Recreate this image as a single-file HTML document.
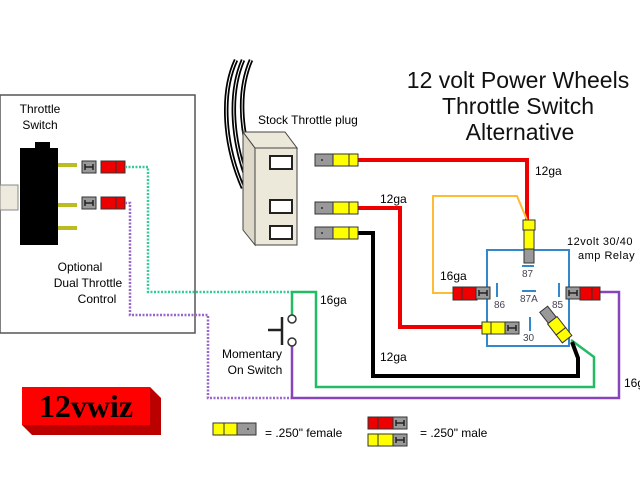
<!DOCTYPE html>
<html><head><meta charset="utf-8"><style>
html,body{margin:0;padding:0;background:#fff;}
svg{display:block;font-family:"Liberation Sans",sans-serif;}
</style></head><body>
<svg width="640" height="480" viewBox="0 0 640 480" xmlns="http://www.w3.org/2000/svg">
<defs>
<g id="gray"><rect x="0" y="0" width="14" height="12" fill="#999" stroke="#333" stroke-width="1"/><path d="M3 3v6M11 3v6M3 6h8" stroke="#222" stroke-width="1.5" fill="none"/></g>
<g id="fem"><rect x="0" y="0" width="18" height="12" fill="#999" stroke="#333"/><circle cx="7" cy="6" r="1" fill="#333"/><rect x="18" y="0" width="16" height="12" fill="#ff0" stroke="#333"/><rect x="34" y="0" width="9" height="12" fill="#ff0" stroke="#333"/></g>
</defs>
<rect x="0" y="95" width="195" height="238" fill="#fff" stroke="#555" stroke-width="1.5"/>
<text x="40" y="113" font-size="12" text-anchor="middle">Throttle</text>
<text x="40" y="129" font-size="12" text-anchor="middle">Switch</text>
<rect x="0" y="185" width="18" height="25" fill="#eeeadd" stroke="#888"/>
<path d="M20 148h15v-6h15v6h8v97h-38z" fill="#000"/>
<rect x="58" y="163" width="19" height="4" fill="#bb2"/>
<rect x="58" y="203" width="19" height="4" fill="#bb2"/>
<rect x="58" y="226" width="19" height="4" fill="#bb2"/>
<use href="#gray" x="82" y="161"/><rect x="101" y="161" width="15" height="12" fill="#e00" stroke="#333"/><rect x="116" y="161" width="9" height="12" fill="#e00" stroke="#333"/>
<use href="#gray" x="82" y="197"/><rect x="101" y="197" width="15" height="12" fill="#e00" stroke="#333"/><rect x="116" y="197" width="9" height="12" fill="#e00" stroke="#333"/>
<text x="80" y="271" font-size="12" text-anchor="middle">Optional</text>
<text x="88" y="287" font-size="12" text-anchor="middle">Dual Throttle</text>
<text x="97" y="303" font-size="12" text-anchor="middle">Control</text>
<path d="M125 167H148V292H292" fill="none" stroke="#3c9" stroke-width="2.5" stroke-dasharray="2,1.5"/>
<path d="M125 203H130V315H208V398H292" fill="none" stroke="#96c" stroke-width="2.5" stroke-dasharray="2,1.5"/>
<path d="M292 319V292H316V387H594V357L571 340" fill="none" stroke="#2b6" stroke-width="2.5"/>
<path d="M292 342V398H619V292H600" fill="none" stroke="#84b" stroke-width="2.5"/>
<circle cx="292" cy="319" r="4" fill="#fff" stroke="#333" stroke-width="1.5"/>
<circle cx="292" cy="342" r="4" fill="#fff" stroke="#333" stroke-width="1.5"/>
<path d="M282 317V345M268 330H282" stroke="#222" stroke-width="2.5"/>
<text x="252" y="358" font-size="12" text-anchor="middle">Momentary</text>
<text x="255" y="374" font-size="12" text-anchor="middle">On Switch</text>
<text x="320" y="304" font-size="12">16ga</text>
<g fill="none">
<path d="M236 60C222 90 222 140 243 188M243 60C230 90 230 135 248 182M251 60C238 90 239 128 255 176" stroke="#000" stroke-width="4.5"/>
<path d="M236 60C222 90 222 140 243 188M243 60C230 90 230 135 248 182M251 60C238 90 239 128 255 176" stroke="#fff" stroke-width="1"/>
</g>
<path d="M243 132L255 148V245L243 230Z" fill="#ddd8c8" stroke="#444"/>
<path d="M243 132H285L297 148H255Z" fill="#ece8da" stroke="#444"/>
<rect x="255" y="148" width="42" height="97" fill="#ece8da" stroke="#444"/>
<rect x="270" y="156" width="22" height="13" fill="#fff" stroke="#222" stroke-width="2"/>
<rect x="270" y="200" width="22" height="13" fill="#fff" stroke="#222" stroke-width="2"/>
<rect x="270" y="226" width="22" height="13" fill="#fff" stroke="#222" stroke-width="2"/>
<text x="258" y="124" font-size="12">Stock Throttle plug</text>
<path d="M357 160H527V220" fill="none" stroke="#e00" stroke-width="4"/>
<path d="M357 208H400V327H482" fill="none" stroke="#e00" stroke-width="4"/>
<path d="M357 233H373V376H578V358L572 342" fill="none" stroke="#000" stroke-width="4"/>
<path d="M453 293H433V196H517L527 220" fill="none" stroke="#fb3" stroke-width="2"/>
<use href="#fem" x="315" y="154"/>
<use href="#fem" x="315" y="202"/>
<use href="#fem" x="315" y="227"/>
<text x="535" y="175" font-size="12">12ga</text>
<text x="380" y="203" font-size="12">12ga</text>
<text x="380" y="361" font-size="12">12ga</text>
<text x="440" y="280" font-size="12">16ga</text>
<rect x="487" y="250" width="82" height="96" fill="none" stroke="#38c" stroke-width="2"/>
<rect x="523" y="220" width="12" height="10" fill="#ff0" stroke="#333"/><rect x="524" y="230" width="10" height="19" fill="#ff0" stroke="#333"/>
<rect x="524" y="249" width="10" height="14" fill="#999" stroke="#333"/>
<rect x="522" y="265" width="12" height="2" fill="#38c"/>
<text x="522" y="277" font-size="10" fill="#445">87</text>
<rect x="453" y="287" width="9" height="13" fill="#e00" stroke="#333"/><rect x="462" y="287" width="15" height="13" fill="#e00" stroke="#333"/>
<use href="#gray" x="476" y="287"/>
<rect x="496" y="283" width="2" height="14" fill="#38c"/>
<text x="494" y="308" font-size="10" fill="#445">86</text>
<rect x="522" y="290" width="14" height="2" fill="#38c"/>
<text x="520" y="302" font-size="10" fill="#445">87A</text>
<use href="#gray" x="566" y="287"/>
<rect x="580" y="287" width="12" height="13" fill="#e00" stroke="#333"/><rect x="592" y="287" width="8" height="13" fill="#e00" stroke="#333"/>
<rect x="558" y="283" width="2" height="14" fill="#38c"/>
<text x="552" y="308" font-size="10" fill="#445">85</text>
<rect x="482" y="322" width="9" height="12" fill="#ff0" stroke="#333"/><rect x="491" y="322" width="14" height="12" fill="#ff0" stroke="#333"/>
<use href="#gray" x="505" y="322"/>
<rect x="529" y="317" width="2" height="14" fill="#38c"/>
<text x="523" y="341" font-size="10" fill="#445">30</text>
<g transform="translate(556 325) rotate(52)"><rect x="-20" y="-5" width="14" height="10" fill="#999" stroke="#333"/><rect x="-6" y="-6" width="14" height="12" fill="#ff0" stroke="#333"/><rect x="8" y="-6" width="10" height="12" fill="#ff0" stroke="#333"/></g>
<text x="567" y="245" font-size="11" letter-spacing="0.5">12volt 30/40</text>
<text x="578" y="259" font-size="11" letter-spacing="0.5">amp Relay</text>
<text x="624" y="387" font-size="12">16g</text>
<g font-size="23" text-anchor="middle" fill="#111">
<text x="518" y="88">12 volt Power Wheels</text>
<text x="518" y="114">Throttle Switch</text>
<text x="520" y="140">Alternative</text>
</g>
<path d="M22 387H150L161 398V435H32L22 425Z" fill="#b00"/>
<rect x="22" y="387" width="128" height="38" fill="#f00"/>
<text x="86" y="417" font-size="32" font-weight="bold" font-family="Liberation Serif,serif" text-anchor="middle">12vwiz</text>
<rect x="213" y="423" width="11" height="12" fill="#ff0" stroke="#333"/><rect x="224" y="423" width="13" height="12" fill="#ff0" stroke="#333"/><rect x="237" y="423" width="19" height="12" fill="#999" stroke="#333"/><circle cx="248" cy="429" r="1" fill="#333"/>
<text x="265" y="437" font-size="12">= .250" female</text>
<rect x="368" y="417" width="10" height="12" fill="#e00" stroke="#333"/><rect x="378" y="417" width="15" height="12" fill="#e00" stroke="#333"/><use href="#gray" x="393" y="417"/>
<rect x="368" y="434" width="10" height="12" fill="#ff0" stroke="#333"/><rect x="378" y="434" width="15" height="12" fill="#ff0" stroke="#333"/><use href="#gray" x="393" y="434"/>
<text x="420" y="437" font-size="12">= .250" male</text>
</svg>
</body></html>
